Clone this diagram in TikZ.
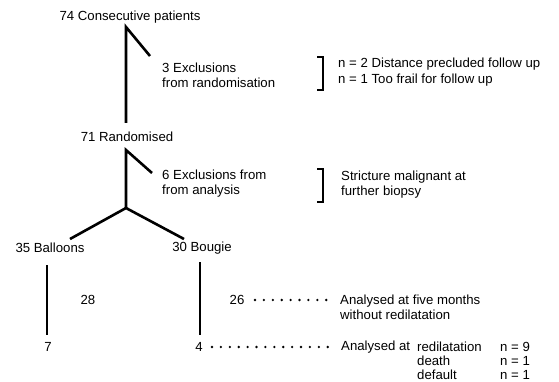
\documentclass[tikz,border=0pt]{standalone}
\usepackage{fontspec}
\setmainfont{Liberation Sans}
\begin{document}
\begin{tikzpicture}[x=1pt,y=-1pt,
  every node/.style={inner sep=0pt,font=\fontsize{13.2}{15.5}\selectfont},
  lbl/.style={anchor=west,align=left},
  tight/.style={font=\fontsize{13.2}{14}\selectfont},
  stem/.style={line width=2.6pt},
  brk/.style={line width=1.3pt},
  dots/.style={line width=2.6pt,line cap=round,dash pattern=on 0pt off 8.9pt}]
\useasboundingbox (0,0) rectangle (559,382);
% texts
\node[anchor=center] (cons) at (130,17) {74 Consecutive patients};
\node[lbl] (ex1) at (162,75.5) {3 Exclusions\\from randomisation};
\node[lbl] (why1) at (338,72) {n = 2 Distance precluded follow up\\n = 1 Too frail for follow up};
\node[anchor=center] (rand) at (127,137) {71 Randomised};
\node[lbl] (ex2) at (162,183.5) {6 Exclusions from\\from analysis};
\node[lbl] (why2) at (341,184.5) {Stricture malignant at\\further biopsy};
\node[anchor=center] (ball) at (50,248) {35 Balloons};
\node[anchor=center] (boug) at (202,248) {30 Bougie};
\node[anchor=center] (n28) at (88,300) {28};
\node[anchor=center] (n26) at (237,300) {26};
\node[lbl] (five) at (340,307.5) {Analysed at five months\\without redilatation};
\node[anchor=center] (n7) at (48,347) {7};
\node[anchor=center] (n4) at (199,347) {4};
\node[lbl] (anat) at (341,347) {Analysed at};
\node[lbl,tight] (reas) at (417,360.5) {redilatation\\death\\default};
\node[lbl,tight] (cnts) at (500,360.5) {n = 9\\n = 1\\n = 1};
% coordinates
\coordinate (a1) at (126,27);
\coordinate (a2) at (126,123);
\coordinate (a3) at (150,56);
\coordinate (b1) at (126,150);
\coordinate (b2) at (126,208);
\coordinate (b3) at (152,173);
\coordinate (c1) at (70,239);
\coordinate (c2) at (184,239);
\coordinate (d1) at (47,265);
\coordinate (d2) at (47,335);
\coordinate (e1) at (200,262);
\coordinate (e2) at (200,335);
% stems
\draw[stem] (a2) -- (a1) -- (a3);
\draw[stem] (b2) -- (b1) -- (b3);
\draw[stem] (c1) -- (b2) -- (c2);
\draw[stem] (d1) -- (d2);
\draw[stem] (e1) -- (e2);
% brackets
\draw[brk] (317,57) -- (323,57) -- (323,90) -- (317,90);
\draw[brk] (317,169) -- (323,169) -- (323,202) -- (317,202);
% dotted leaders
\coordinate (f1) at (255,300);
\coordinate (f2) at (335,300);
\coordinate (g1) at (212,347);
\coordinate (g2) at (336,347);
\draw[dots] (f1) -- (f2);
\draw[dots] (g1) -- (g2);
\end{tikzpicture}
\end{document}
